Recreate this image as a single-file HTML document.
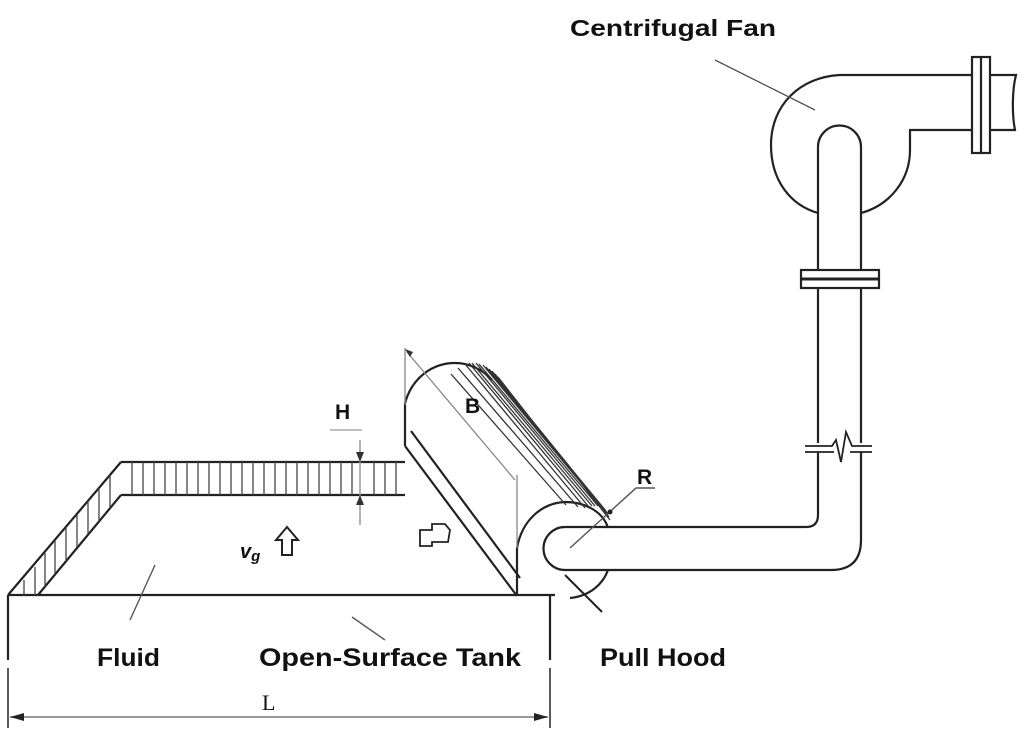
<!DOCTYPE html>
<html><head><meta charset="utf-8"><style>body{margin:0;background:#fff}svg{display:block}text{font-family:"Liberation Sans",sans-serif;fill:#111}</style></head>
<body>
<svg width="1024" height="740" viewBox="0 0 1024 740" xmlns="http://www.w3.org/2000/svg">
<g fill="none" stroke="#222" stroke-width="2.2">
<line x1="8" y1="595" x2="555" y2="595"/>
<line x1="8" y1="595" x2="121" y2="462"/>
<line x1="38" y1="595" x2="121" y2="495"/>
<line x1="121" y1="462" x2="405" y2="462"/>
<line x1="121" y1="495" x2="405" y2="495"/>
<line x1="8" y1="595" x2="8" y2="660"/>
<line x1="8" y1="668" x2="8" y2="728" stroke-width="1.5"/>
<line x1="550" y1="595" x2="550" y2="660"/>
<line x1="550" y1="668" x2="550" y2="728" stroke-width="1.5"/>
</g>
<g stroke="#444" stroke-width="1.3">
<path d="M132 462V495M143 462V495M154 462V495M165 462V495M176 462V495M187 462V495M198 462V495M209 462V495M220 462V495M231 462V495M242 462V495M253 462V495M264 462V495M275 462V495M286 462V495M297 462V495M308 462V495M319 462V495M330 462V495M341 462V495M352 462V495M374 462V495M385 462V495M396 462V495"/>
<path d="M110 475V508M99 488V521M88 501V534M77 514V547M66 527V561M55 540V574M45 553V587M35 567V595M24 580V595"/>
</g>
<g stroke="#999" stroke-width="1.5"><line x1="360" y1="440" x2="360" y2="525"/></g>
<path d="M356 452l4 10 4-10zM356 505l4-10 4 10z" fill="#333"/>
<line x1="330" y1="430" x2="362" y2="430" stroke="#999" stroke-width="1.2"/>
<g fill="none" stroke="#222" stroke-width="2.2">
<path d="M405 446V403C412 378 432 363 455 363C470 363 483 370 492 380"/>
<line x1="405" y1="446" x2="517" y2="596"/>
<line x1="411" y1="431" x2="520" y2="578"/>
<line x1="517" y1="548" x2="517" y2="596"/>
<path d="M517 548C522 520 542 503 565 502C588 502 604 514 608 528"/>
<path d="M570 598C590 596 603 584 608 570"/>
</g>
<g stroke="#333" stroke-width="1.3" fill="none">
<path d="M465 364L585 508M469 363L589 507M472 363L592 506M476 363L595 506M479 364L598 506M483 365L601 507M486 367L603 508M489 369L606 511M492 371L608 514M495 374L609 517M498 377L610 520M458 368L578 507M451 374L566 505"/>
</g>
<g stroke="#888" stroke-width="1.3"><line x1="407" y1="352" x2="515" y2="480"/><line x1="405" y1="348" x2="405" y2="405"/><line x1="517" y1="475" x2="517" y2="548"/></g>
<path d="M405 349l8 3-3 5z" fill="#333"/>
<g fill="none" stroke="#222" stroke-width="2.2">
<path d="M565 527H806Q818 527 818 515V452"/>
<path d="M565 570H831Q861 570 861 540V452"/>
<path d="M565 527A21.5 21.5 0 0 0 565 570"/>
<path d="M818 443V288M861 443V288"/>
<path d="M818 270V147A21.5 21.5 0 0 1 861 147V270"/>
<rect x="801" y="270" width="78" height="18"/>
<line x1="801" y1="279" x2="879" y2="279" stroke-width="3"/>
<path d="M805 446H832L836 440L841 462L846 432L852 446H872M805 452H834M850 452H872" stroke-width="1.8"/>
<path d="M818 213C790 205 771 180 771 145C771 105 800 77 840 75H972"/>
<path d="M861 213C890 205 910 180 910 150V130H972"/>
<rect x="972" y="57" width="18" height="96"/>
<line x1="981" y1="57" x2="981" y2="153"/>
<path d="M990 75H1016C1012 90 1012 115 1015 130H990"/>
</g>
<g stroke="#555" stroke-width="1.4" fill="none">
<line x1="715" y1="60" x2="815" y2="110"/>
<line x1="155" y1="565" x2="130" y2="620"/>
<line x1="352" y1="617" x2="385" y2="640"/>
<line x1="565" y1="575" x2="602" y2="612" stroke="#222" stroke-width="2"/>
<path d="M655 488H636L570 548"/>
</g>
<circle cx="610" cy="512" r="2.5" fill="#222"/>
<line x1="10" y1="717" x2="548" y2="717" stroke="#999" stroke-width="2"/>
<path d="M10 717l14-4v8zM548 717l-14-4v8z" fill="#222"/>
<path d="M282 555V540H276L287 527L298 540H292V555Z" fill="#fff" stroke="#222" stroke-width="2"/>
<path d="M420 530H432V524H445L450 530L448 542H432V546H420Z" fill="#fff" stroke="#222" stroke-width="1.8"/>
<g font-weight="bold">
<text x="570" y="36" font-size="23" textLength="206" lengthAdjust="spacingAndGlyphs">Centrifugal Fan</text>
<text x="335" y="419" font-size="21">H</text>
<text x="465" y="413" font-size="21">B</text>
<text x="637" y="484" font-size="21">R</text>
<text x="240" y="558" font-size="20" font-style="italic">v<tspan font-size="15" dy="3">g</tspan></text>
<text x="97" y="666" font-size="25" textLength="63" lengthAdjust="spacingAndGlyphs">Fluid</text>
<text x="259" y="666" font-size="25" textLength="262" lengthAdjust="spacingAndGlyphs">Open-Surface Tank</text>
<text x="600" y="666" font-size="25" textLength="126" lengthAdjust="spacingAndGlyphs">Pull Hood</text>
</g>
<text x="262" y="710" font-size="22" style="font-family:'Liberation Serif',serif">L</text>
</svg>
</body></html>
